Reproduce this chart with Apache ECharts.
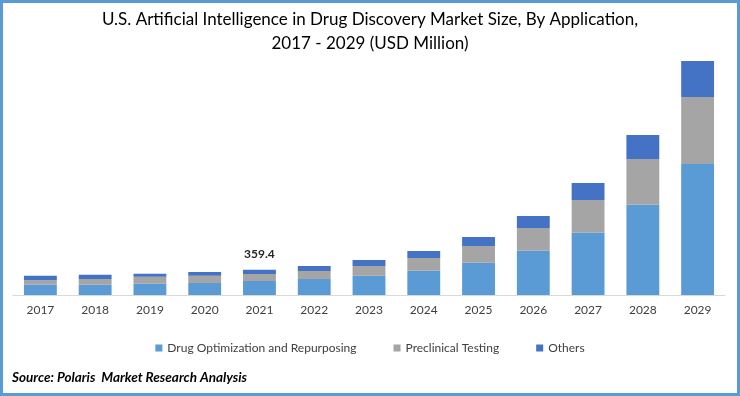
<!DOCTYPE html>
<html>
<head>
<meta charset="utf-8">
<script src="https://cdn.jsdelivr.net/npm/echarts@6/dist/echarts.min.js"></script>
<style>
  html, body { margin: 0; padding: 0; background: #fff; }
  #chart { width: 740px; height: 396px; }
</style>
</head>
<body>
<div id="chart"></div>
<script>
// values (USD Million)
var years = ['2017', '2018', '2019', '2020', '2021', '2022', '2023', '2024', '2025', '2026', '2027', '2028', '2029'];
var drugOptimization = [146, 146, 160, 170, 199, 227, 274, 345, 459, 629, 885, 1282, 1860];
var preclinical = [62, 81, 99, 104, 99, 114, 138, 180, 237, 322, 464, 649, 951];
var others = [66, 61, 43, 53, 61.4, 71, 85, 99, 128, 170, 241, 341, 511];
var labelledYear = '2021';

var font = 'Lato';
var chart = echarts.init(document.getElementById('chart'));

var option = {
    backgroundColor: '#ffffff',
    color: ['#5B9BD5', '#A5A5A5', '#4472C4'],
    title: {
        text: 'U.S. Artificial Intelligence in Drug Discovery Market Size, By Application,\n2017 - 2029 (USD Million)',
        left: 'center',
        top: 3,
        padding: [5, 0, 5, 20],
        textStyle: { fontFamily: font, fontSize: 17, fontWeight: 'normal', color: '#000', lineHeight: 24 }
    },
    legend: {
        data: ['Drug Optimization and Repurposing', 'Preclinical Testing', 'Others'],
        left: 'center',
        top: 337,
        itemWidth: 7,
        itemHeight: 7,
        itemGap: 37,
        icon: 'rect',
        textStyle: { fontFamily: font, fontSize: 12, color: '#404040' }
    },
    grid: { left: 13, right: 15, top: 55.6, bottom: 101 },
    xAxis: {
        type: 'category',
        data: years,
        axisTick: { show: false },
        axisLine: { lineStyle: { color: '#D9D9D9' } },
        axisLabel: { fontFamily: font, fontSize: 12, color: '#404040', margin: 9 }
    },
    yAxis: {
        type: 'value',
        min: 0,
        max: 3400,
        show: false,
        splitLine: { show: false }
    },
    series: [
        {
            name: 'Drug Optimization and Repurposing',
            type: 'bar',
            stack: 'total',
            barCategoryGap: '40%',
            data: drugOptimization
        },
        {
            name: 'Preclinical Testing',
            type: 'bar',
            stack: 'total',
            data: preclinical
        },
        {
            name: 'Others',
            type: 'bar',
            stack: 'total',
            data: others,
            label: {
                show: true,
                position: 'top',
                distance: 10,
                fontFamily: font,
                fontSize: 12,
                fontWeight: 'bold',
                color: '#262626',
                formatter: function (p) {
                    if (p.name !== labelledYear) return '';
                    var i = p.dataIndex;
                    return (drugOptimization[i] + preclinical[i] + others[i]).toFixed(1);
                }
            }
        }
    ],
    graphic: [
        {
            type: 'rect',
            shape: { x: 1.5, y: 1.5, width: 737, height: 393 },
            style: { fill: 'none', stroke: '#5B9BD5', lineWidth: 3 },
            silent: true
        },
        {
            type: 'text',
            left: 12,
            top: 371,
            style: {
                text: 'Source: Polaris  Market Research Analysis',
                font: 'italic bold 13.5px Lato',
                fill: '#000'
            }
        }
    ]
};

chart.setOption(option);
</script>
</body>
</html>
